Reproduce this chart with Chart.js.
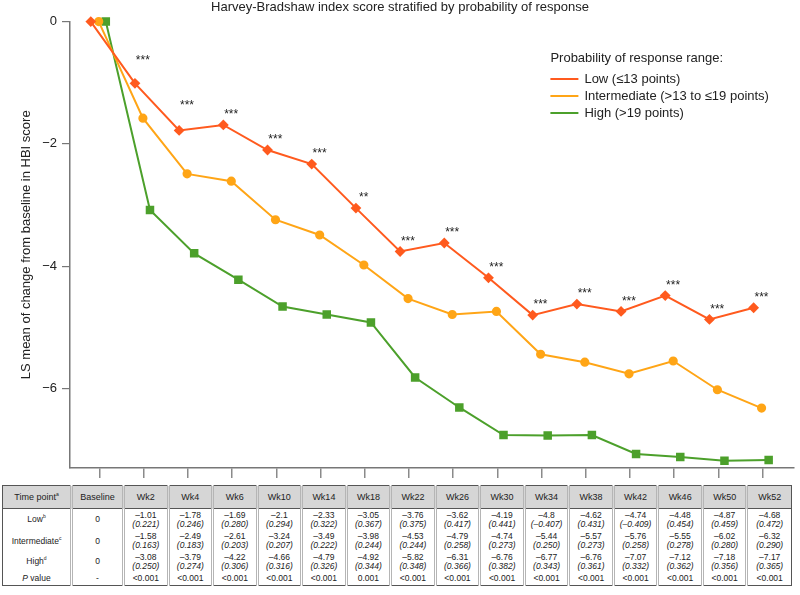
<!DOCTYPE html>
<html>
<head>
<meta charset="utf-8">
<script src="https://cdn.jsdelivr.net/npm/chart.js@4/dist/chart.umd.min.js"></script>
<style>
  body { margin: 0; background: #fff; }
  #wrap { position: relative; width: 800px; height: 595px; }
  #chart { position: absolute; left: 0; top: 0; }
  #tbl {
    position: absolute; left: 2px; top: 485px; width: 790px;
    border-collapse: collapse; table-layout: fixed;
    font-family: "Liberation Sans", Arial, sans-serif; font-size: 8.5px; color: #222;
    border: 1px solid #555;
  }
  #tbl th, #tbl td { text-align: center; padding: 0; border-left: 3px double #b5b5b5; line-height: 9px; }
  #tbl th { background: #d6d6d6; height: 22px; font-weight: normal; font-size: 9px; border-bottom: 1px solid #555; }
  #tbl sup { font-size: 5px; line-height: 0; }
  #tbl i { font-style: italic; }
</style>
</head>
<body>
<div id="wrap">
  <canvas id="chart" width="800" height="482"></canvas>
  <table id="tbl"></table>
</div>
<script>
// time points and LS mean values per probability group
const timePoints = ['Baseline', 'Wk2', 'Wk4', 'Wk6', 'Wk10', 'Wk14', 'Wk18', 'Wk22', 'Wk26', 'Wk30', 'Wk34', 'Wk38', 'Wk42', 'Wk46', 'Wk50', 'Wk52'];
const lowMean = [0, -1.01, -1.78, -1.69, -2.1, -2.33, -3.05, -3.76, -3.62, -4.19, -4.8, -4.62, -4.74, -4.48, -4.87, -4.68];
const lowSE = [null, 0.221, 0.246, 0.280, 0.294, 0.322, 0.367, 0.375, 0.417, 0.441, -0.407, 0.431, -0.409, 0.454, 0.459, 0.472];
const intMean = [0, -1.58, -2.49, -2.61, -3.24, -3.49, -3.98, -4.53, -4.79, -4.74, -5.44, -5.57, -5.76, -5.55, -6.02, -6.32];
const intSE = [null, 0.163, 0.183, 0.203, 0.207, 0.222, 0.244, 0.244, 0.258, 0.273, 0.250, 0.273, 0.258, 0.278, 0.280, 0.290];
const highMean = [0, -3.08, -3.79, -4.22, -4.66, -4.79, -4.92, -5.82, -6.31, -6.76, -6.77, -6.76, -7.07, -7.12, -7.18, -7.17];
const highSE = [null, 0.250, 0.274, 0.306, 0.316, 0.326, 0.344, 0.348, 0.366, 0.382, 0.343, 0.361, 0.332, 0.362, 0.356, 0.365];
const pValues = ['-', '<0.001', '<0.001', '<0.001', '<0.001', '<0.001', '0.001', '<0.001', '<0.001', '<0.001', '<0.001', '<0.001', '<0.001', '<0.001', '<0.001', '<0.001'];
const sigMarks = ['', '***', '***', '***', '***', '***', '**', '***', '***', '***', '***', '***', '***', '***', '***', '***'];
const yTicks = [0, -2, -4, -6];

const seriesLabels = ['Low (\u226413 points)', 'Intermediate (>13 to \u226419 points)', 'High (>19 points)'];

const FONT = '"Liberation Sans", Arial, sans-serif';

// points are dodged a little around each time point
function toPoints(values, dodge) {
    return values.map((v, i) => ({ x: i + dodge, y: v }));
}

function makeSet(label, values, dodge, color, shape, radius) {
    return {
        label: label,
        data: toPoints(values, dodge),
        borderColor: color,
        backgroundColor: color,
        pointBackgroundColor: color,
        pointBorderColor: color,
        pointStyle: shape,
        pointRadius: radius,
        borderWidth: 2,
        tension: 0,
        clip: false
    };
}

const datasetLow = makeSet(seriesLabels[0], lowMean, -0.2, '#ff5a1e', 'rectRot', 4);
const datasetInt = makeSet(seriesLabels[1], intMean, -0.02, '#ffa516', 'circle', 3.6);
const datasetHigh = makeSet(seriesLabels[2], highMean, 0.14, '#4ca02b', 'rect', 4.6);

// significance stars above the Low line
const starsPlugin = {
    id: 'stars',
    afterDatasetsDraw(chart) {
        const ctx = chart.ctx, xs = chart.scales.x, ys = chart.scales.y;
        ctx.save();
        ctx.font = '12px ' + FONT;
        ctx.fillStyle = '#222';
        ctx.textAlign = 'center';
        ctx.textBaseline = 'middle';
        sigMarks.forEach((s, i) => {
            if (!s) return;
            var lift = i === 1 ? 27 : (i === 2 ? 29 : 14);
            ctx.fillText(s, xs.getPixelForValue(i) - 1, ys.getPixelForValue(lowMean[i]) - lift + 4);
        });
        ctx.restore();
    }
};

// legend drawn at the upper right of the plot
const legendPlugin = {
    id: 'sideLegend',
    afterDraw(chart) {
        const ctx = chart.ctx;
        const lx = chart.chartArea.right - 243, ly = 58;
        ctx.save();
        ctx.font = '13px ' + FONT;
        ctx.fillStyle = '#222';
        ctx.textAlign = 'left';
        ctx.textBaseline = 'middle';
        ctx.fillText('Probability of response range:', lx, ly);
        chart.data.datasets.forEach((ds, k) => {
            var y = 79 + k * 17;
            ctx.strokeStyle = ds.borderColor;
            ctx.lineWidth = 2;
            ctx.beginPath();
            ctx.moveTo(lx, y);
            ctx.lineTo(lx + 28, y);
            ctx.stroke();
            ctx.fillText(ds.label, lx + 34, y);
        });
        ctx.restore();
    }
};

var ctx = document.getElementById('chart');

new Chart(ctx, {
    type: 'line',
    data: {
        datasets: [datasetLow, datasetInt, datasetHigh]
    },
    options: {
        responsive: false,
        animation: false,
        layout: { padding: { left: 0, right: 0, top: 0, bottom: 4 } },
        plugins: {
            legend: { display: false },
            tooltip: { enabled: false },
            title: {
                display: true,
                text: 'Harvey-Bradshaw index score stratified by probability of response',
                color: '#222',
                font: { family: FONT, size: 13, weight: 'normal' },
                padding: { top: 0, bottom: 6 }
            }
        },
        scales: {
            x: {
                type: 'linear',
                min: -0.67,
                max: 15.7,
                afterBuildTicks: (scale) => {
                    scale.ticks = timePoints.map((t, i) => ({ value: i }));
                },
                ticks: { display: false },
                grid: { drawOnChartArea: false, tickLength: 10, color: '#8a8a8a', lineWidth: 1.5 },
                border: { color: '#777', width: 1.5 }
            },
            y: {
                min: -7.3,
                max: 0,
                afterBuildTicks: (scale) => {
                    scale.ticks = yTicks.map(v => ({ value: v }));
                },
                afterFit: (scale) => { scale.width = 70; },
                ticks: {
                    color: '#222',
                    padding: 5,
                    font: { family: FONT, size: 13 },
                    callback: (v) => v === 0 ? '0' : '\u2212' + Math.abs(v)
                },
                grid: { drawOnChartArea: false, tickLength: 8, color: '#777', lineWidth: 1.2 },
                border: { color: '#777', width: 1.5 },
                title: {
                    display: true,
                    text: 'LS mean of change from baseline in HBI score',
                    color: '#222',
                    font: { family: FONT, size: 13 },
                    padding: { top: 19, bottom: 0 }
                }
            }
        }
    },
    plugins: [starsPlugin, legendPlugin]
});

// table underneath the plot
function fmtMean(v) {
    return v === 0 ? '0' : (v < 0 ? '\u2013' : '') + Math.abs(v);
}
function fmtSE(v) {
    return '(' + (v < 0 ? '\u2013' : '') + Math.abs(v).toFixed(3) + ')';
}

var html = '<colgroup><col style="width:69px"><col style="width:52px">';
for (var i = 1; i < timePoints.length; i++) html += '<col>';
html += '</colgroup>';
html += '<tr><th style="border-left:none">Time point<sup>a</sup></th>';
timePoints.forEach(t => { html += '<th>' + t + '</th>'; });
html += '</tr>';

const rows = [
    ['Low<sup>b</sup>', lowMean, lowSE, 22],
    ['Intermediate<sup>c</sup>', intMean, intSE, 21],
    ['High<sup>d</sup>', highMean, highSE, 20]
];
rows.forEach(r => {
    html += '<tr style="height:' + r[3] + 'px"><td style="border-left:none">' + r[0] + '</td>';
    r[1].forEach((v, i) => {
        if (r[2][i] === null) html += '<td>' + fmtMean(v) + '</td>';
        else html += '<td>' + fmtMean(v) + '<br><i>' + fmtSE(r[2][i]) + '</i></td>';
    });
    html += '</tr>';
});
html += '<tr style="height:14px"><td style="border-left:none"><i>P</i> value</td>';
pValues.forEach(p => { html += '<td>' + p.replace('<', '&lt;') + '</td>'; });
html += '</tr>';
document.getElementById('tbl').innerHTML = html;
</script>
</body>
</html>
